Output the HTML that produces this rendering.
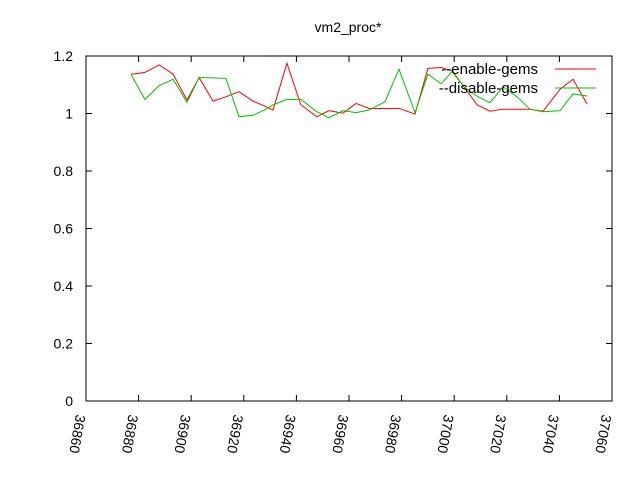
<!DOCTYPE html>
<html><head><meta charset="utf-8"><style>
body{margin:0;background:#fff}
svg{display:block;font-family:"Liberation Sans",sans-serif}
</style></head><body>
<svg id="chart" width="640" height="480" viewBox="0 0 640 480">
<rect width="640" height="480" fill="#fff"/>
<text x="348" y="32" text-anchor="middle" font-size="14">vm2_proc*</text>
<g id="axes"></g>
<g id="series"></g>
<g>
<text x="538" y="74" text-anchor="end" font-size="15">--enable-gems</text>
<line x1="555" y1="69" x2="596" y2="69" stroke="#ff0000"/>
<text x="538" y="93" text-anchor="end" font-size="15">--disable-gems</text>
<line x1="555" y1="88" x2="596" y2="88" stroke="#00c000"/>
</g>
</svg>
<script>
const xValues=[36877.1,36882.4,36887.8,36893.1,36898.4,36903,36908.3,36913.2,36918.2,36923.5,36928.4,36931.1,36936.4,36941.7,36947.8,36952.4,36957.7,36962.7,36967.6,36973.7,36979,36985.1,36990,36995,36999.2,37003.7,37008.7,37013.6,37018.6,37023.9,37028.8,37033.8,37040.2,37045.2,37050.5];
const enableGems=[1.136,1.143,1.169,1.137,1.047,1.125,1.043,1.058,1.076,1.043,1.024,1.012,1.175,1.03,0.989,1.01,1.001,1.035,1.018,1.017,1.018,0.998,1.157,1.16,1.149,1.093,1.03,1.008,1.015,1.015,1.015,1.008,1.084,1.119,1.033];
const disableGems=[1.136,1.049,1.097,1.119,1.039,1.125,1.124,1.122,0.989,0.994,1.015,1.03,1.049,1.049,1.006,0.985,1.01,1.003,1.012,1.041,1.154,1.003,1.137,1.103,1.146,1.093,1.06,1.038,1.093,1.058,1.015,1.006,1.01,1.068,1.061];
const xTicks=[36860,36880,36900,36920,36940,36960,36980,37000,37020,37040,37060];
const yTicks=[0,0.2,0.4,0.6,0.8,1,1.2];
const yTickLabels=["0","0.2","0.4","0.6","0.8","1","1.2"];
const L=86,R=612,T=56,B=401;
const X=v=>L+(v-36860)/200*(R-L);
const Y=v=>B-v/1.2*(B-T);
const NS="http://www.w3.org/2000/svg";
const axes=document.getElementById('axes'),ser=document.getElementById('series');
function mk(tag,attrs,parent){const e=document.createElementNS(NS,tag);for(const k in attrs)e.setAttribute(k,attrs[k]);parent.appendChild(e);return e;}
const frame=mk('rect',{x:L,y:T,width:R-L,height:B-T,fill:'none',stroke:'#000'},axes);


yTicks.forEach((v,i)=>{
  const y=Y(v);
  const t=mk('path',{d:`M${L},${y}h6M${R},${y}h-6`,stroke:'#000'},axes);
  
  
  const lb=mk('text',{x:73,y:y+5,'text-anchor':'end','font-size':'14'},axes);
  
  
  lb.textContent=yTickLabels[i];
});
xTicks.forEach(v=>{
  const x=X(v);
  const t=mk('path',{d:`M${x},${B}v-6M${x},${T}v6`,stroke:'#000'},axes);
  
  
  const lb=mk('text',{x:0,y:0,'font-size':'14',transform:`translate(${x-10},414) rotate(100)`},axes);
  
  
  lb.textContent=String(v);
});
function line(vals,color,name){
  const p=mk('polyline',{points:vals.map((v,i)=>X(xValues[i])+','+Y(v)).join(' '),fill:'none',stroke:color,'stroke-width':'1'},ser);
  
  
}
line(enableGems,'#ff0000','series-enable-gems');
line(disableGems,'#00c000','series-disable-gems');
</script>
</body></html>
